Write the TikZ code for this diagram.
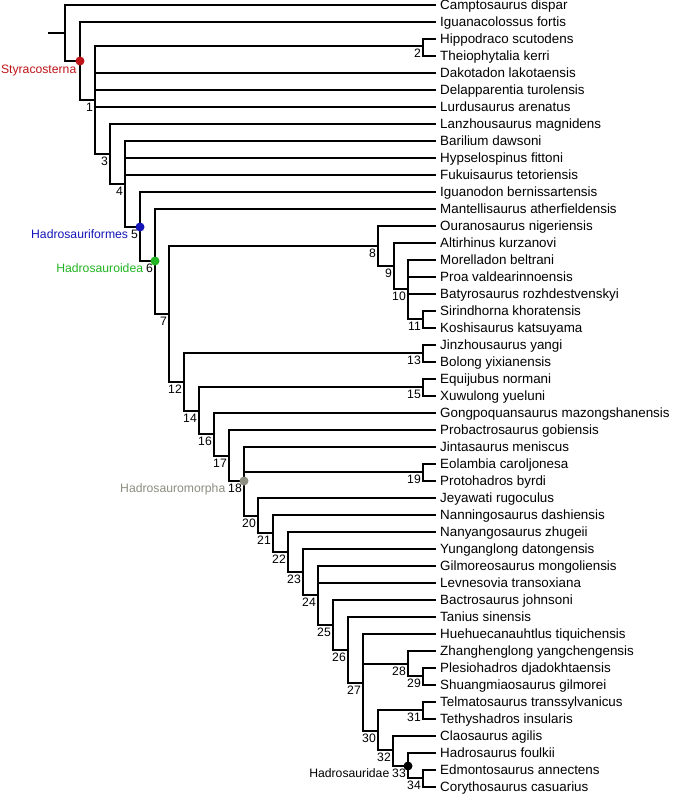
\documentclass[tikz,border=0pt]{standalone}
\usepackage{fontspec}
\setmainfont{Liberation Sans}
\usepackage{xcolor}
\usepackage{tikz}
\usetikzlibrary{positioning}
\definecolor{styraRed}{RGB}{190,20,24}
\definecolor{hadroBlue}{RGB}{20,20,185}
\definecolor{hadroGreen}{RGB}{34,180,34}
\definecolor{hadroGray}{RGB}{140,140,128}

\begin{document}
\begin{tikzpicture}[x=1pt, y=-1pt,
    leaf/.style={anchor=west, inner xsep=4pt, inner ysep=0pt, text height=9.6pt, text depth=0pt, font=\fontsize{13.4}{15}\selectfont},
    num/.style={inner sep=0pt, font=\fontsize{12.2}{14}\selectfont},
    branch/.style={line width=2pt}]
    \useasboundingbox (0,0) rectangle (676,800);

    % definisci le foglie
    \node (t1) [leaf] at (436,5) {Camptosaurus dispar};
    \node (t2) [leaf] at (436,22) {Iguanacolossus fortis};
    \node (t3) [leaf] at (436,39) {Hippodraco scutodens};
    \node (t4) [leaf] at (436,56) {Theiophytalia kerri};
    \node (t5) [leaf] at (436,73) {Dakotadon lakotaensis};
    \node (t6) [leaf] at (436,90) {Delapparentia turolensis};
    \node (t7) [leaf] at (436,107) {Lurdusaurus arenatus};
    \node (t8) [leaf] at (436,124) {Lanzhousaurus magnidens};
    \node (t9) [leaf] at (436,141) {Barilium dawsoni};
    \node (t10) [leaf] at (436,158) {Hypselospinus fittoni};
    \node (t11) [leaf] at (436,175) {Fukuisaurus tetoriensis};
    \node (t12) [leaf] at (436,192) {Iguanodon bernissartensis};
    \node (t13) [leaf] at (436,209) {Mantellisaurus atherfieldensis};
    \node (t14) [leaf] at (436,226) {Ouranosaurus nigeriensis};
    \node (t15) [leaf] at (436,243) {Altirhinus kurzanovi};
    \node (t16) [leaf] at (436,260) {Morelladon beltrani};
    \node (t17) [leaf] at (436,277) {Proa valdearinnoensis};
    \node (t18) [leaf] at (436,294) {Batyrosaurus rozhdestvenskyi};
    \node (t19) [leaf] at (436,311) {Sirindhorna khoratensis};
    \node (t20) [leaf] at (436,328) {Koshisaurus katsuyama};
    \node (t21) [leaf] at (436,345) {Jinzhousaurus yangi};
    \node (t22) [leaf] at (436,362) {Bolong yixianensis};
    \node (t23) [leaf] at (436,379) {Equijubus normani};
    \node (t24) [leaf] at (436,396) {Xuwulong yueluni};
    \node (t25) [leaf] at (436,413) {Gongpoquansaurus mazongshanensis};
    \node (t26) [leaf] at (436,430) {Probactrosaurus gobiensis};
    \node (t27) [leaf] at (436,447) {Jintasaurus meniscus};
    \node (t28) [leaf] at (436,464) {Eolambia caroljonesa};
    \node (t29) [leaf] at (436,481) {Protohadros byrdi};
    \node (t30) [leaf] at (436,498) {Jeyawati rugoculus};
    \node (t31) [leaf] at (436,515) {Nanningosaurus dashiensis};
    \node (t32) [leaf] at (436,532) {Nanyangosaurus zhugeii};
    \node (t33) [leaf] at (436,549) {Yunganglong datongensis};
    \node (t34) [leaf] at (436,566) {Gilmoreosaurus mongoliensis};
    \node (t35) [leaf] at (436,583) {Levnesovia transoxiana};
    \node (t36) [leaf] at (436,600) {Bactrosaurus johnsoni};
    \node (t37) [leaf] at (436,617) {Tanius sinensis};
    \node (t38) [leaf] at (436,634) {Huehuecanauhtlus tiquichensis};
    \node (t39) [leaf] at (436,651) {Zhanghenglong yangchengensis};
    \node (t40) [leaf] at (436,668) {Plesiohadros djadokhtaensis};
    \node (t41) [leaf] at (436,685) {Shuangmiaosaurus gilmorei};
    \node (t42) [leaf] at (436,702) {Telmatosaurus transsylvanicus};
    \node (t43) [leaf] at (436,719) {Tethyshadros insularis};
    \node (t44) [leaf] at (436,736) {Claosaurus agilis};
    \node (t45) [leaf] at (436,753) {Hadrosaurus foulkii};
    \node (t46) [leaf] at (436,770) {Edmontosaurus annectens};
    \node (t47) [leaf] at (436,787) {Corythosaurus casuarius};

    % definisci i nodi interni
    \coordinate (stub) at (48,33);
    \coordinate (root) at (65,33);
    \coordinate (nS) at (80,61);
    \coordinate (n1) at (95,100);
    \coordinate (n2) at (423,46);
    \coordinate (n3) at (110,154);
    \coordinate (n4) at (125,184);
    \coordinate (n5) at (140,227);
    \coordinate (n6) at (155,261);
    \coordinate (n7) at (169,314);
    \coordinate (n8) at (378,246);
    \coordinate (n9) at (394,266);
    \coordinate (n10) at (408,289);
    \coordinate (n11) at (423,319);
    \coordinate (n12) at (184,382);
    \coordinate (n13) at (423,353);
    \coordinate (n14) at (199,411);
    \coordinate (n15) at (423,387);
    \coordinate (n16) at (214,434);
    \coordinate (n17) at (229,456);
    \coordinate (n18) at (244,481);
    \coordinate (n19) at (423,472);
    \coordinate (n20) at (258,516);
    \coordinate (n21) at (273,533);
    \coordinate (n22) at (288,552);
    \coordinate (n23) at (303,572);
    \coordinate (n24) at (318,595);
    \coordinate (n25) at (333,625);
    \coordinate (n26) at (348,650);
    \coordinate (n27) at (363,683);
    \coordinate (n28) at (408,664);
    \coordinate (n29) at (423,676);
    \coordinate (n30) at (378,731);
    \coordinate (n31) at (423,710);
    \coordinate (n32) at (393,750);
    \coordinate (n33) at (408,766);
    \coordinate (n34) at (423,778);

    % definisci i collegamenti
    \draw [branch] (stub) -- (root);
    \draw [branch] (root) |- (t1) (root) |- (nS);
    \draw [branch] (nS) |- (t2) (nS) |- (n1);
    \draw [branch] (n1) |- (n2) (n1) |- (t5) (n1) |- (t6) (n1) |- (t7) (n1) |- (n3);
    \draw [branch] (n2) |- (t3) (n2) |- (t4);
    \draw [branch] (n3) |- (t8) (n3) |- (n4);
    \draw [branch] (n4) |- (t9) (n4) |- (t10) (n4) |- (t11) (n4) |- (n5);
    \draw [branch] (n5) |- (t12) (n5) |- (n6);
    \draw [branch] (n6) |- (t13) (n6) |- (n7);
    \draw [branch] (n7) |- (n8) (n7) |- (n12);
    \draw [branch] (n8) |- (t14) (n8) |- (n9);
    \draw [branch] (n9) |- (t15) (n9) |- (n10);
    \draw [branch] (n10) |- (t16) (n10) |- (t17) (n10) |- (t18) (n10) |- (n11);
    \draw [branch] (n11) |- (t19) (n11) |- (t20);
    \draw [branch] (n12) |- (n13) (n12) |- (n14);
    \draw [branch] (n13) |- (t21) (n13) |- (t22);
    \draw [branch] (n14) |- (n15) (n14) |- (n16);
    \draw [branch] (n15) |- (t23) (n15) |- (t24);
    \draw [branch] (n16) |- (t25) (n16) |- (n17);
    \draw [branch] (n17) |- (t26) (n17) |- (n18);
    \draw [branch] (n18) |- (t27) (n18) |- (n19) (n18) |- (n20);
    \draw [branch] (n19) |- (t28) (n19) |- (t29);
    \draw [branch] (n20) |- (t30) (n20) |- (n21);
    \draw [branch] (n21) |- (t31) (n21) |- (n22);
    \draw [branch] (n22) |- (t32) (n22) |- (n23);
    \draw [branch] (n23) |- (t33) (n23) |- (n24);
    \draw [branch] (n24) |- (t34) (n24) |- (t35) (n24) |- (n25);
    \draw [branch] (n25) |- (t36) (n25) |- (n26);
    \draw [branch] (n26) |- (t37) (n26) |- (n27);
    \draw [branch] (n27) |- (t38) (n27) |- (n28) (n27) |- (n30);
    \draw [branch] (n28) |- (t39) (n28) |- (n29);
    \draw [branch] (n29) |- (t40) (n29) |- (t41);
    \draw [branch] (n30) |- (n31) (n30) |- (n32);
    \draw [branch] (n31) |- (t42) (n31) |- (t43);
    \draw [branch] (n32) |- (t44) (n32) |- (n33);
    \draw [branch] (n33) |- (t45) (n33) |- (n34);
    \draw [branch] (n34) |- (t46) (n34) |- (t47);

    % punti dei cladi
    \fill [styraRed] (nS) circle (4.5pt);
    \fill [hadroBlue] (n5) circle (4.5pt);
    \fill [hadroGreen] (n6) circle (4.5pt);
    \fill [hadroGray] (n18) circle (4.5pt);
    \fill [black] (n33) circle (4.5pt);

    % numeri dei nodi
    \node (l1) [num, below left=3pt and 2pt of n1] {1};
    \node (l2) [num, below left=3pt and 2pt of n2] {2};
    \node (l3) [num, below left=3pt and 2pt of n3] {3};
    \node (l4) [num, below left=3pt and 2pt of n4] {4};
    \node (l5) [num, below left=3pt and 2pt of n5] {5};
    \node (l6) [num, below left=3pt and 2pt of n6] {6};
    \node (l7) [num, below left=3pt and 2pt of n7] {7};
    \node (l8) [num, below left=3pt and 2pt of n8] {8};
    \node (l9) [num, below left=3pt and 2pt of n9] {9};
    \node (l10) [num, below left=3pt and 2pt of n10] {10};
    \node (l11) [num, below left=3pt and 2pt of n11] {11};
    \node (l12) [num, below left=3pt and 2pt of n12] {12};
    \node (l13) [num, below left=3pt and 2pt of n13] {13};
    \node (l14) [num, below left=3pt and 2pt of n14] {14};
    \node (l15) [num, below left=3pt and 2pt of n15] {15};
    \node (l16) [num, below left=3pt and 2pt of n16] {16};
    \node (l17) [num, below left=3pt and 2pt of n17] {17};
    \node (l18) [num, below left=3pt and 2pt of n18] {18};
    \node (l19) [num, below left=3pt and 2pt of n19] {19};
    \node (l20) [num, below left=3pt and 2pt of n20] {20};
    \node (l21) [num, below left=3pt and 2pt of n21] {21};
    \node (l22) [num, below left=3pt and 2pt of n22] {22};
    \node (l23) [num, below left=3pt and 2pt of n23] {23};
    \node (l24) [num, below left=3pt and 2pt of n24] {24};
    \node (l25) [num, below left=3pt and 2pt of n25] {25};
    \node (l26) [num, below left=3pt and 2pt of n26] {26};
    \node (l27) [num, below left=3pt and 2pt of n27] {27};
    \node (l28) [num, below left=3pt and 2pt of n28] {28};
    \node (l29) [num, below left=3pt and 2pt of n29] {29};
    \node (l30) [num, below left=3pt and 2pt of n30] {30};
    \node (l31) [num, below left=3pt and 2pt of n31] {31};
    \node (l32) [num, below left=3pt and 2pt of n32] {32};
    \node (l33) [num, below left=3pt and 2pt of n33] {33};
    \node (l34) [num, below left=3pt and 2pt of n34] {34};

    % nomi dei cladi
    \node (cS) [num, text=styraRed, below left=4pt and 3.5pt of nS] {Styracosterna};
    \node (c5) [num, text=hadroBlue, base left=2.5pt of l5] {Hadrosauriformes};
    \node (c6) [num, text=hadroGreen, base left=2.5pt of l6] {Hadrosauroidea};
    \node (c18) [num, text=hadroGray, base left=2.5pt of l18] {Hadrosauromorpha};
    \node (c33) [num, base left=2.5pt of l33] {Hadrosauridae};
\end{tikzpicture}
\end{document}
